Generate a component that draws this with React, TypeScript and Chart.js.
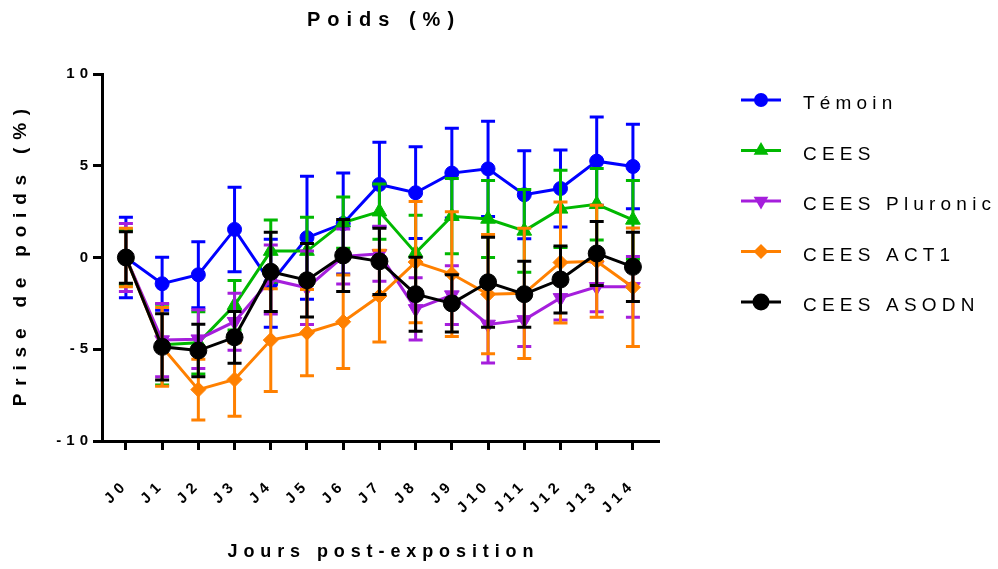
import React, { useEffect, useRef } from 'react';
import { Chart, registerables } from 'chart.js';

Chart.register(...registerables);

// ---- data ----
const dayIndex = [0, 1, 2, 3, 4, 5, 6, 7, 8, 9, 10, 11, 12, 13, 14];
const dayLabels = ['J0', 'J1', 'J2', 'J3', 'J4', 'J5', 'J6', 'J7', 'J8', 'J9', 'J10', 'J11', 'J12', 'J13', 'J14'];
const yTickValues = [-10, -5, 0, 5, 10];

const seriesNames = ['Témoin', 'CEES', 'CEES Pluronic', 'CEES ACT1', 'CEES ASODN'];

const temoinMean = [0, -1.43, -0.94, 1.53, -1.4, 1.08, 1.85, 3.98, 3.53, 4.6, 4.83, 3.42, 3.76, 5.25, 4.96];
const temoinSD = [2.2, 1.45, 1.8, 2.3, 2.4, 3.35, 2.75, 2.3, 2.5, 2.45, 2.6, 2.4, 2.1, 2.4, 2.3];

const ceesMean = [0, -4.75, -4.65, -2.6, 0.35, 0.35, 1.9, 2.5, 0.25, 2.25, 2.1, 1.45, 2.65, 2.9, 2.05];
const ceesSD = [1.5, 2.2, 1.7, 1.35, 1.7, 1.85, 1.4, 1.5, 2.05, 2.05, 2.1, 2.25, 2.1, 1.95, 2.15];

const pluronicMean = [0, -4.5, -4.45, -3.5, -1.2, -1.65, 0.05, 0.2, -2.8, -2.05, -3.65, -3.4, -2.2, -1.6, -1.6];
const pluronicSD = [1.85, 2.0, 1.6, 1.55, 1.88, 2.0, 1.5, 1.5, 1.7, 1.6, 2.1, 1.45, 1.2, 1.35, 1.65];

const act1Mean = [0, -4.87, -7.2, -6.65, -4.5, -4.1, -3.5, -2.1, -0.25, -0.9, -2.0, -1.95, -0.27, -0.2, -1.62];
const act1SD = [1.6, 2.15, 1.65, 2.0, 2.8, 2.35, 2.55, 2.5, 3.3, 3.4, 3.25, 3.55, 3.3, 3.05, 3.23];

const asodnMean = [0, -4.87, -5.07, -4.35, -0.78, -1.24, 0.11, -0.21, -2.0, -2.5, -1.35, -2.0, -1.2, 0.22, -0.51];
const asodnSD = [1.4, 1.8, 1.43, 1.41, 2.16, 2.0, 1.96, 1.81, 2.02, 1.56, 2.45, 1.8, 1.83, 1.74, 1.89];

// ---- styles ----
const FONT = '"Liberation Sans", Arial, Helvetica, sans-serif';
const COLORS = ['#0000FF', '#00B800', '#A51EDC', '#FF8000', '#000000'];
const STYLES = ['circle', 'triangle', 'triangleDown', 'rectRot', 'circle'];
const RADII = [7, 8.5, 8.5, 7.5, 8.5];

function drawSpaced(ctx: CanvasRenderingContext2D, text: string, x: number, y: number, spacing: number, align: 'left' | 'center') {
  const chars = Array.from(text);
  const widths = chars.map((c) => ctx.measureText(c).width);
  const total = widths.reduce((a, b) => a + b, 0) + spacing * (chars.length - 1);
  let cx = align === 'center' ? x - total / 2 : x;
  ctx.textAlign = 'left';
  chars.forEach((c, i) => {
    ctx.fillText(c, cx, y);
    cx += widths[i] + spacing;
  });
}

function drawMarker(ctx: CanvasRenderingContext2D, style: string, x: number, y: number, r: number, color: string) {
  ctx.save();
  ctx.fillStyle = color;
  ctx.beginPath();
  if (style === 'circle') {
    ctx.arc(x, y, r, 0, Math.PI * 2);
  } else if (style === 'triangle') {
    ctx.moveTo(x, y - r);
    ctx.lineTo(x + 0.866 * r, y + 0.5 * r);
    ctx.lineTo(x - 0.866 * r, y + 0.5 * r);
  } else if (style === 'triangleDown') {
    ctx.moveTo(x, y + r);
    ctx.lineTo(x + 0.866 * r, y - 0.5 * r);
    ctx.lineTo(x - 0.866 * r, y - 0.5 * r);
  } else {
    ctx.moveTo(x - r, y);
    ctx.lineTo(x, y - r);
    ctx.lineTo(x + r, y);
    ctx.lineTo(x, y + r);
  }
  ctx.closePath();
  ctx.fill();
  ctx.restore();
}

const errorBarPlugin = {
  id: 'errorBars',
  beforeDatasetDraw(chart: any, args: any) {
    const ds = chart.data.datasets[args.index];
    const sd: number[] = ds.sd;
    const yScale = chart.scales.y;
    const ctx = chart.ctx as CanvasRenderingContext2D;
    ctx.save();
    ctx.strokeStyle = ds.borderColor;
    ctx.lineWidth = 3;
    ctx.lineCap = 'butt';
    args.meta.data.forEach((pt: any, i: number) => {
      const v = ds.data[i].y;
      const px = pt.x;
      const top = yScale.getPixelForValue(v + sd[i]);
      const bot = yScale.getPixelForValue(v - sd[i]);
      ctx.beginPath();
      ctx.moveTo(px, top);
      ctx.lineTo(px, bot);
      ctx.moveTo(px - 7, top);
      ctx.lineTo(px + 7, top);
      ctx.moveTo(px - 7, bot);
      ctx.lineTo(px + 7, bot);
      ctx.stroke();
    });
    ctx.restore();
  },
};

const tickSpacingPlugin = {
  id: 'tickSpacing',
  beforeDraw(chart: any) {
    (chart.ctx as any).letterSpacing = '5px';
  },
  beforeDatasetsDraw(chart: any) {
    (chart.ctx as any).letterSpacing = '0px';
  },
};

const textPlugin = {
  id: 'texts',
  afterDraw(chart: any) {
    const ctx = chart.ctx as CanvasRenderingContext2D;
    const area = chart.chartArea;
    ctx.save();
    (ctx as any).letterSpacing = '0px';
    ctx.fillStyle = '#000';
    ctx.textBaseline = 'middle';

    // title
    ctx.font = `bold 20px ${FONT}`;
    drawSpaced(ctx, 'Poids (%)', (area.left + area.right) / 2, 20, 7.0, 'center');

    // x title
    ctx.font = `bold 18px ${FONT}`;
    drawSpaced(ctx, 'Jours post-exposition', (area.left + area.right) / 2, 552, 5.9, 'center');

    // y title
    ctx.save();
    ctx.translate(21, (area.top + area.bottom) / 2);
    ctx.rotate(-Math.PI / 2);
    ctx.font = `bold 19px ${FONT}`;
    drawSpaced(ctx, 'Prise de poids (%)', 0, 0, 7.8, 'center');
    ctx.restore();

    // legend
    const datasets = chart.data.datasets;
    datasets.forEach((ds: any, i: number) => {
      const rowY = 100 + i * 50.5;
      ctx.save();
      ctx.strokeStyle = ds.borderColor;
      ctx.lineWidth = 3;
      ctx.beginPath();
      ctx.moveTo(741, rowY);
      ctx.lineTo(781, rowY);
      ctx.stroke();
      ctx.restore();
      drawMarker(ctx, STYLES[i], 761, rowY, RADII[i], ds.borderColor);
      ctx.fillStyle = '#000';
      ctx.font = `19px ${FONT}`;
      drawSpaced(ctx, ds.label, 803, rowY + 4, 5.2, 'left');
    });
    ctx.restore();
  },
};

export default function App() {
  const canvasRef = useRef<HTMLCanvasElement | null>(null);

  useEffect(() => {
    document.body.style.margin = '0';
    const canvas = canvasRef.current;
    if (!canvas) return;
    const means = [temoinMean, ceesMean, pluronicMean, act1Mean, asodnMean];
    const sds = [temoinSD, ceesSD, pluronicSD, act1SD, asodnSD];

    const datasets = seriesNames.map((name, s) => ({
      label: name,
      data: dayIndex.map((d, i) => ({ x: d, y: means[s][i] })),
      sd: sds[s],
      borderColor: COLORS[s],
      backgroundColor: COLORS[s],
      pointBackgroundColor: COLORS[s],
      pointBorderColor: COLORS[s],
      borderWidth: 3,
      pointBorderWidth: 1,
      pointStyle: STYLES[s] === 'triangleDown' ? 'triangle' : STYLES[s],
      rotation: STYLES[s] === 'triangleDown' ? 180 : 0,
      pointRadius: RADII[s],
      tension: 0,
      order: 5 - s,
      clip: false,
    }));

    const chart = new Chart(canvas, {
      type: 'line',
      data: { datasets } as any,
      plugins: [tickSpacingPlugin, errorBarPlugin, textPlugin] as any,
      options: {
        animation: false,
        responsive: false,
        devicePixelRatio: 1,
        layout: { padding: { top: 74, right: 339, left: 0, bottom: 0 } },
        plugins: {
          legend: { display: false },
          title: { display: false },
          tooltip: { enabled: false },
        },
        scales: {
          x: {
            type: 'linear',
            min: -0.66,
            max: 14.72,
            afterBuildTicks: (s: any) => {
              s.ticks = dayIndex.map((v) => ({ value: v }));
            },
            afterFit: (s: any) => {
              s.height = 128;
            },
            grid: {
              display: true,
              drawOnChartArea: false,
              drawTicks: true,
              tickLength: 9,
              tickWidth: 3,
              tickColor: '#000',
            },
            border: { display: true, color: '#000', width: 3 },
            ticks: {
              autoSkip: false,
              maxRotation: 45,
              minRotation: 45,
              padding: 26,
              color: '#000',
              font: { family: FONT, size: 15, weight: 'bold' },
              callback: (v: any) => dayLabels[Math.round(Number(v))] ?? '',
            },
          },
          y: {
            type: 'linear',
            min: -10,
            max: 10,
            afterBuildTicks: (s: any) => {
              s.ticks = yTickValues.map((v) => ({ value: v }));
            },
            afterFit: (s: any) => {
              s.width = 102;
            },
            grid: {
              display: true,
              drawOnChartArea: false,
              drawTicks: true,
              tickLength: 9,
              tickWidth: 3,
              tickColor: '#000',
            },
            border: { display: true, color: '#000', width: 3 },
            ticks: {
              padding: 0,
              color: '#000',
              font: { family: FONT, size: 15, weight: 'bold' },
              callback: (v: any) => String(v),
            },
          },
        },
      } as any,
    });
    return () => chart.destroy();
  }, []);

  return (
    <div style={{ width: 998, height: 569 }}>
      <canvas ref={canvasRef} width={998} height={569} style={{ width: 998, height: 569, display: 'block' }} />
    </div>
  );
}
